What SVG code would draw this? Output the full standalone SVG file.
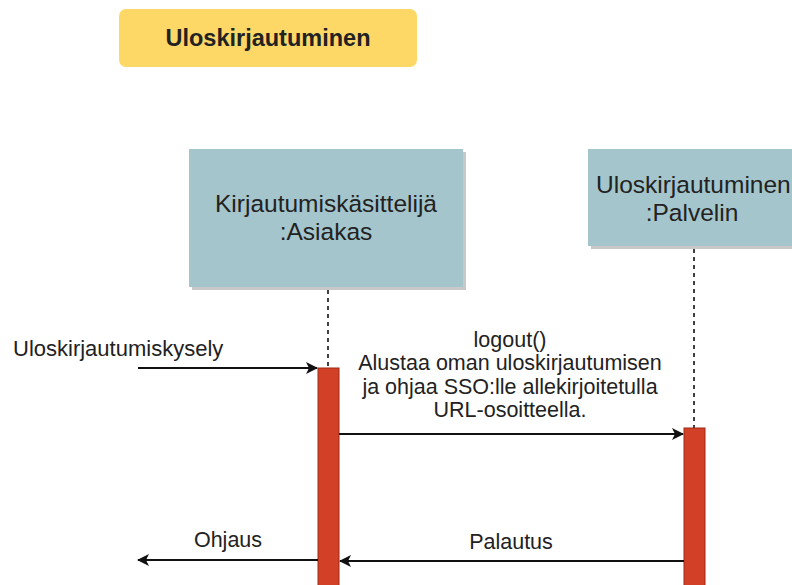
<svg xmlns="http://www.w3.org/2000/svg" width="792" height="585" viewBox="0 0 792 585">
  <defs>
    <style>
      .lbl { font-family: "Liberation Sans", Arial, sans-serif; fill: #222; }
      .actor { fill: #a4c5cc; }
      .shadow { fill: #c8c8c8; }
      .life { stroke: #111; stroke-width: 1.6; stroke-dasharray: 4 4; fill: none; }
      .act { fill: #d24127; stroke: #9e2a14; stroke-width: 1; }
      .msg { stroke: #111; stroke-width: 1.8; fill: none; }
    </style>
    <marker id="arr" viewBox="0 0 12 12" refX="11" refY="6" markerWidth="12" markerHeight="12" markerUnits="userSpaceOnUse" orient="auto">
      <path d="M0,0 L12,6 L0,12 L3,6 Z" fill="#111"/>
    </marker>
  </defs>
  <rect width="792" height="585" fill="#ffffff"/>

  <!-- title -->
  <g id="title">
    <rect x="119" y="9" width="298" height="58" rx="7" fill="#fed867"/>
    <text class="lbl" x="268" y="46" font-size="23.5" font-weight="bold" text-anchor="middle" fill="#111">Uloskirjautuminen</text>
  </g>

  <!-- participant: client -->
  <g id="asiakas">
    <rect class="shadow" x="192" y="152" width="274" height="138"/>
    <rect class="actor" x="189" y="149" width="274" height="138"/>
    <text class="lbl" x="326" y="212" font-size="24.5" text-anchor="middle">Kirjautumiskäsittelijä</text>
    <text class="lbl" x="326" y="240" font-size="24.5" text-anchor="middle">:Asiakas</text>
  </g>

  <!-- participant: service -->
  <g id="palvelin">
    <rect class="shadow" x="591" y="152" width="210" height="97"/>
    <rect class="actor" x="588" y="149" width="210" height="97"/>
    <text class="lbl" x="596" y="193" font-size="24.5">Uloskirjautuminen</text>
    <text class="lbl" x="692" y="221" font-size="24.5" text-anchor="middle">:Palvelin</text>
  </g>

  <!-- lifelines and activations -->
  <g id="lifelines">
    <line class="life" x1="328" y1="290" x2="328" y2="368"/>
    <line class="life" x1="694" y1="249" x2="694" y2="428"/>
    <rect class="act" x="318" y="368" width="21" height="220"/>
    <rect class="act" x="684" y="428" width="21" height="160"/>
  </g>

  <!-- messages -->
  <g id="connectors">
    <line class="msg" x1="138" y1="368" x2="317" y2="368" marker-end="url(#arr)"/>
    <line class="msg" x1="339" y1="434" x2="683" y2="434" marker-end="url(#arr)"/>
    <line class="msg" x1="684" y1="561" x2="340" y2="561" marker-end="url(#arr)"/>
    <line class="msg" x1="318" y1="560" x2="138" y2="560" marker-end="url(#arr)"/>
  </g>

  <!-- message labels -->
  <g id="labels">
    <text class="lbl" x="13" y="356" font-size="22">Uloskirjautumiskysely</text>
    <text class="lbl" x="510" y="347" font-size="21.5" text-anchor="middle">logout()</text>
    <text class="lbl" x="510" y="370" font-size="21.5" text-anchor="middle">Alustaa oman uloskirjautumisen</text>
    <text class="lbl" x="510" y="394" font-size="21.5" text-anchor="middle">ja ohjaa SSO:lle allekirjoitetulla</text>
    <text class="lbl" x="510" y="417" font-size="21.5" text-anchor="middle">URL-osoitteella.</text>
    <text class="lbl" x="511" y="549" font-size="21.5" text-anchor="middle">Palautus</text>
    <text class="lbl" x="228" y="547" font-size="21.5" text-anchor="middle">Ohjaus</text>
  </g>
</svg>
